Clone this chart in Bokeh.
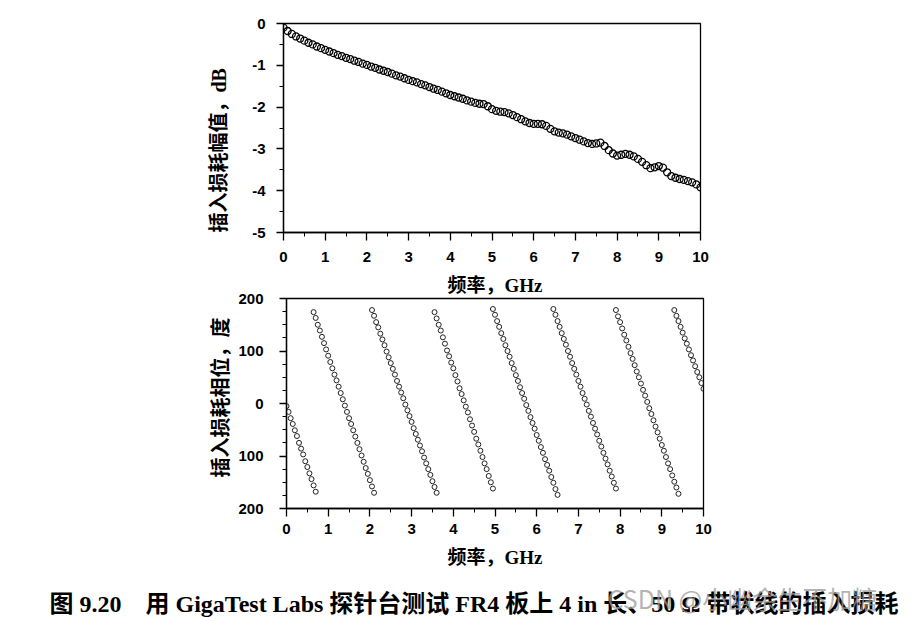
from bokeh.plotting import figure
from bokeh.layouts import column
from bokeh.models import FixedTicker, Label, Range1d, Title
from bokeh.embed import file_html
from bokeh.resources import INLINE

# ---------------- data ----------------
mag_freq = [0.0, 0.1, 0.2, 0.3, 0.4, 0.5, 0.6, 0.7, 0.8, 0.9,
            1.0, 1.1, 1.2, 1.3, 1.4, 1.5, 1.6, 1.7, 1.8, 1.9,
            2.0, 2.1, 2.2, 2.3, 2.4, 2.5, 2.6, 2.7, 2.8, 2.9,
            3.0, 3.1, 3.2, 3.3, 3.4, 3.5, 3.6, 3.7, 3.8, 3.9,
            4.0, 4.1, 4.2, 4.3, 4.4, 4.5, 4.6, 4.7, 4.8, 4.9,
            5.0, 5.1, 5.2, 5.3, 5.4, 5.5, 5.6, 5.7, 5.8, 5.9,
            6.0, 6.1, 6.2, 6.3, 6.4, 6.5, 6.6, 6.7, 6.8, 6.9,
            7.0, 7.1, 7.2, 7.3, 7.4, 7.5, 7.6, 7.7, 7.8, 7.9,
            8.0, 8.1, 8.2, 8.3, 8.4, 8.5, 8.6, 8.7, 8.8, 8.9,
            9.0, 9.1, 9.2, 9.3, 9.4, 9.5, 9.6, 9.7, 9.8, 9.9, 10.0]
mag_db = [-0.10, -0.18, -0.25, -0.31, -0.36, -0.41, -0.46, -0.50, -0.55, -0.59,
          -0.63, -0.67, -0.71, -0.75, -0.78, -0.82, -0.85, -0.89, -0.92, -0.96,
          -0.99, -1.03, -1.06, -1.10, -1.13, -1.16, -1.20, -1.24, -1.27, -1.31,
          -1.35, -1.38, -1.41, -1.45, -1.48, -1.52, -1.56, -1.59, -1.63, -1.67,
          -1.71, -1.74, -1.77, -1.80, -1.84, -1.87, -1.90, -1.92, -1.93, -1.98,
          -2.05, -2.09, -2.11, -2.12, -2.15, -2.19, -2.24, -2.29, -2.34, -2.38,
          -2.40, -2.40, -2.41, -2.45, -2.52, -2.58, -2.61, -2.63, -2.66, -2.70,
          -2.74, -2.78, -2.82, -2.86, -2.88, -2.87, -2.85, -2.93, -3.03, -3.11,
          -3.16, -3.14, -3.12, -3.14, -3.18, -3.24, -3.31, -3.39, -3.46, -3.44,
          -3.41, -3.45, -3.56, -3.65, -3.69, -3.72, -3.74, -3.77, -3.80, -3.85, -3.92]

phase_freq = [
    0.00, 0.05, 0.10, 0.15, 0.20, 0.25, 0.30, 0.35, 0.40, 0.45, 0.50, 0.55, 0.60, 0.65, 0.70,
    0.65, 0.70, 0.75, 0.80, 0.85, 0.90, 0.95, 1.00, 1.05, 1.10, 1.15, 1.20, 1.25, 1.30, 1.35,
    1.40, 1.45, 1.50, 1.55, 1.60, 1.65, 1.70, 1.75, 1.80, 1.85, 1.90, 1.95, 2.00, 2.05, 2.10,
    2.05, 2.10, 2.15, 2.20, 2.25, 2.30, 2.35, 2.40, 2.45, 2.50, 2.55, 2.60, 2.65, 2.70, 2.75,
    2.80, 2.85, 2.90, 2.95, 3.00, 3.05, 3.10, 3.15, 3.20, 3.25, 3.30, 3.35, 3.40, 3.45, 3.50,
    3.55, 3.60,
    3.55, 3.60, 3.65, 3.70, 3.75, 3.80, 3.85, 3.90, 3.95, 4.00, 4.05, 4.10, 4.15, 4.20, 4.25,
    4.30, 4.35, 4.40, 4.45, 4.50, 4.55, 4.60, 4.65, 4.70, 4.75, 4.80, 4.85, 4.90, 4.95,
    4.95, 5.00, 5.05, 5.10, 5.15, 5.20, 5.25, 5.30, 5.35, 5.40, 5.45, 5.50, 5.55, 5.60, 5.65,
    5.70, 5.75, 5.80, 5.85, 5.90, 5.95, 6.00, 6.05, 6.10, 6.15, 6.20, 6.25, 6.30, 6.35, 6.40,
    6.45, 6.50,
    6.40, 6.45, 6.50, 6.55, 6.60, 6.65, 6.70, 6.75, 6.80, 6.85, 6.90, 6.95, 7.00, 7.05, 7.10,
    7.15, 7.20, 7.25, 7.30, 7.35, 7.40, 7.45, 7.50, 7.55, 7.60, 7.65, 7.70, 7.75, 7.80, 7.85,
    7.90,
    7.90, 7.95, 8.00, 8.05, 8.10, 8.15, 8.20, 8.25, 8.30, 8.35, 8.40, 8.45, 8.50, 8.55, 8.60,
    8.65, 8.70, 8.75, 8.80, 8.85, 8.90, 8.95, 9.00, 9.05, 9.10, 9.15, 9.20, 9.25, 9.30, 9.35,
    9.40,
    9.30, 9.35, 9.40, 9.45, 9.50, 9.55, 9.60, 9.65, 9.70, 9.75, 9.80, 9.85, 9.90, 9.95, 10.00]
phase_deg = [
    -5, -16, -28, -39, -51, -62, -75, -86, -97, -110, -121, -133, -144, -156, -168,
    174, 163, 150, 139, 127, 115, 103, 91, 79, 67, 55, 44, 32, 20, 8,
    -4, -16, -28, -39, -51, -63, -75, -87, -99, -111, -123, -134, -146, -158, -170,
    178, 167, 155, 145, 133, 122, 111, 99, 88, 77, 66, 55, 43, 32, 21,
    10, -2, -13, -24, -35, -47, -58, -69, -80, -91, -103, -114, -125, -136, -148,
    -159, -170,
    174, 162, 150, 139, 126, 114, 101, 90, 78, 67, 54, 42, 29, 18, 6,
    -6, -17, -30, -42, -54, -67, -78, -90, -102, -114, -125, -138, -150, -162,
    180, 169, 157, 146, 134, 123, 111, 100, 89, 77, 66, 54, 43, 31, 20,
    9, -3, -14, -26, -37, -48, -60, -71, -83, -94, -106, -117, -128, -140, -151,
    -163, -174,
    180, 169, 157, 146, 134, 123, 112, 100, 89, 77, 66, 55, 43, 32, 20,
    9, -2, -14, -25, -37, -48, -59, -71, -82, -94, -105, -116, -128, -139, -151,
    -162,
    178, 166, 155, 143, 131, 120, 108, 96, 85, 73, 61, 50, 38, 26, 15,
    3, -9, -20, -32, -44, -55, -67, -79, -90, -102, -114, -125, -137, -149, -160,
    -172,
    178, 167, 157, 146, 135, 124, 114, 103, 92, 82, 71, 60, 50, 39, 28]

freq_ticks = [0, 1, 2, 3, 4, 5, 6, 7, 8, 9, 10]
freq_tick_labels = ["0", "1", "2", "3", "4", "5", "6", "7", "8", "9", "10"]
mag_ticks = [0, -1, -2, -3, -4, -5]
mag_tick_labels = ["0", "-1", "-2", "-3", "-4", "-5"]
phase_ticks = [200, 100, 0, -100, -200]
phase_tick_labels = ["200", "100", "0", "100", "200"]

x_title = "频率，GHz"
mag_title = "插入损耗幅值，dB"
phase_title = "插入损耗相位，度"
caption = "图 9.20　用 GigaTest Labs 探针台测试 FR4 板上 4 in 长、50 Ω 带状线的插入损耗"
watermark = "CSDN @小幽余生不加糖"

# ---------------- styling helpers ----------------
TITLE_FONT = "'Liberation Serif', 'Noto Sans CJK SC'"
TICK_FONT = "'Liberation Sans'"


def style_axes(p, xticks, xlabels, xminor, yticks, ylabels, yminor, xstand, ystand):
    p.xgrid.visible = False
    p.ygrid.visible = False
    p.background_fill_color = "white"
    p.border_fill_color = "white"
    p.outline_line_color = "black"
    p.outline_line_width = 1.3
    xa = p.xaxis[0]
    ya = p.yaxis[0]
    xa.ticker = FixedTicker(ticks=xticks, minor_ticks=xminor)
    ya.ticker = FixedTicker(ticks=yticks, minor_ticks=yminor)
    xa.major_label_overrides = {t: l for t, l in zip(xticks, xlabels)}
    ya.major_label_overrides = {t: l for t, l in zip(yticks, ylabels)}
    for ax in (xa, ya):
        ax.axis_line_width = 1.3
        ax.axis_line_color = "black"
        ax.major_tick_line_width = 1.3
        ax.minor_tick_line_width = 1.0
        ax.major_tick_in = 0
        ax.minor_tick_in = 0
        ax.major_label_text_font = TICK_FONT
        ax.major_label_text_font_style = "bold"
        ax.major_label_text_font_size = "15px"
        ax.major_label_text_color = "black"
        ax.axis_label_text_font = TITLE_FONT
        ax.axis_label_text_font_style = "bold"
        ax.axis_label_text_font_size = "19px"
        ax.axis_label_text_color = "black"
    xa.major_tick_out = 8
    xa.minor_tick_out = 4
    ya.major_tick_out = 7
    ya.minor_tick_out = 4
    xa.major_label_standoff = xstand
    ya.major_label_standoff = ystand


def side_title(text, offset, standoff, valign):
    return Title(text=text, align="left", offset=offset, standoff=standoff,
                 vertical_align=valign,
                 text_font=TITLE_FONT, text_font_style="bold",
                 text_font_size="20px", text_color="black")


half_steps_x = [i * 0.5 for i in range(21)]

# ---------------- top: magnitude ----------------
p1 = figure(width=912, height=268, x_range=Range1d(0, 10), y_range=Range1d(-5, 0),
            output_backend="svg", toolbar_location=None,
            min_border_left=283, min_border_right=212,
            min_border_top=23, min_border_bottom=36)
p1.frame_align = False
style_axes(p1, freq_ticks, freq_tick_labels, half_steps_x,
           mag_ticks, mag_tick_labels, [-j * 0.5 for j in range(11)], 11, 11)
p1.add_layout(side_title(mag_title, 0, 35, "top"), "left")
p1.scatter(mag_freq, mag_db, marker="circle", size=7, fill_color=None,
           line_color="black", line_width=1.3)

# ---------------- bottom: phase ----------------
p2 = figure(width=912, height=307, x_range=Range1d(0, 10), y_range=Range1d(-200, 200),
            output_backend="svg", toolbar_location=None,
            min_border_left=286, min_border_right=209,
            min_border_top=30, min_border_bottom=67)
p2.frame_align = False
style_axes(p2, freq_ticks, freq_tick_labels, half_steps_x,
           phase_ticks, phase_tick_labels, list(range(-200, 201, 25)), 7, 16)
# x-axis title of the upper panel sits in the gap between the two panels
p2.title.text = x_title
p2.title.align = "center"
p2.title.vertical_align = "top"
p2.title.standoff = 2
p2.title.text_font = TITLE_FONT
p2.title.text_font_style = "bold"
p2.title.text_font_size = "19px"
p2.title.text_color = "black"
p2.xaxis[0].axis_label = x_title
p2.xaxis[0].axis_label_standoff = 10
p2.add_layout(side_title(phase_title, 31, 8, "bottom"), "left")
p2.scatter(phase_freq, phase_deg, marker="circle", size=5, fill_color=None,
           line_color="#222222", line_width=1.0)

# ---------------- caption ----------------
p3 = figure(width=912, height=42, x_range=Range1d(0, 912), y_range=Range1d(42, 0),
            output_backend="svg", toolbar_location=None,
            x_axis_type=None, y_axis_type=None,
            min_border=0, min_border_left=0, min_border_right=0,
            min_border_top=0, min_border_bottom=0)
p3.frame_align = False
p3.xgrid.visible = False
p3.ygrid.visible = False
p3.outline_line_color = None
p3.add_layout(Label(x=49, y=28, text=caption, text_align="left", text_baseline="middle",
                    text_font=TITLE_FONT, text_font_style="bold",
                    text_font_size="24px", text_color="black"))
p3.add_layout(Label(x=607, y=22, text=watermark, text_align="left", text_baseline="middle",
                    text_font="'Noto Sans CJK SC'", text_font_size="25px",
                    text_color="#9a9a9a", text_alpha=0.75))

layout = column(p1, p2, p3, spacing=0)
open("out.html", "w").write(file_html(layout, INLINE))
